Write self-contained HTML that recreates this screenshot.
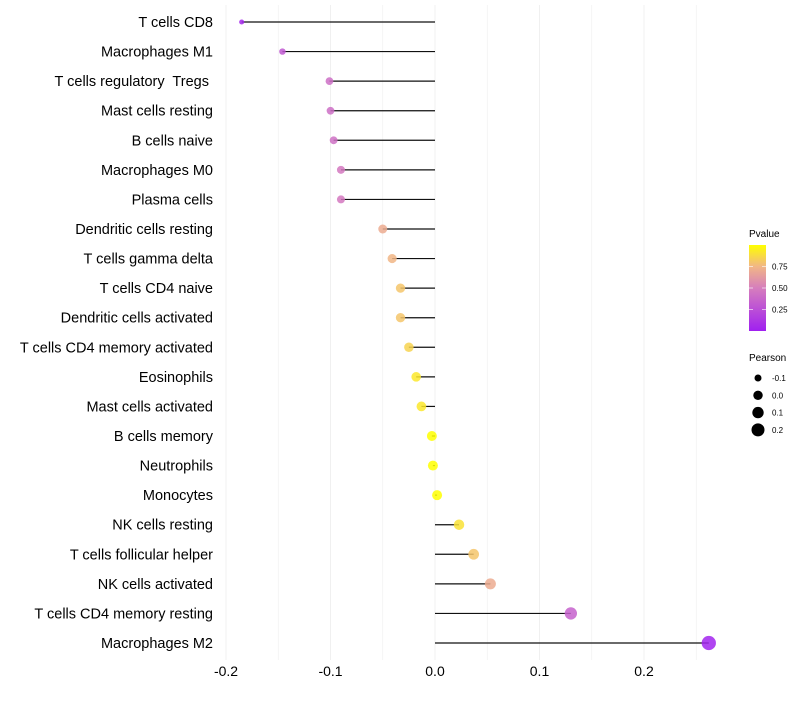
<!DOCTYPE html>
<html><head><meta charset="utf-8"><style>
body{margin:0;background:#fff;font-family:"Liberation Sans",sans-serif}
text{white-space:pre}
</style></head><body>
<svg id="c" width="800" height="700" xmlns="http://www.w3.org/2000/svg">
<defs><linearGradient id="pg" x1="0" y1="1" x2="0" y2="0">
<stop offset="0" stop-color="#a020f0"/><stop offset="0.5" stop-color="#d67ebd"/><stop offset="0.75" stop-color="#f1b686"/><stop offset="1" stop-color="#ffff00"/></linearGradient></defs>
</svg>
<script>
const categories=["T cells CD8","Macrophages M1","T cells regulatory  Tregs ","Mast cells resting","B cells naive","Macrophages M0","Plasma cells","Dendritic cells resting","T cells gamma delta","T cells CD4 naive","Dendritic cells activated","T cells CD4 memory activated","Eosinophils","Mast cells activated","B cells memory","Neutrophils","Monocytes","NK cells resting","T cells follicular helper","NK cells activated","T cells CD4 memory resting","Macrophages M2"];
const pearson=[-0.185,-0.146,-0.101,-0.100,-0.097,-0.090,-0.090,-0.050,-0.041,-0.033,-0.033,-0.025,-0.018,-0.013,-0.003,-0.002,0.002,0.023,0.037,0.053,0.130,0.262];
const pvalues=[0.05,0.3,0.42,0.42,0.43,0.47,0.47,0.7,0.75,0.8,0.8,0.85,0.92,0.92,1,1,1,0.9,0.8,0.7,0.35,0.02];
const xTicks=[-0.2,-0.1,0,0.1,0.2];
const xTickLabels=["-0.2","-0.1","0.0","0.1","0.2"];
const sizeLegend=[-0.1,0,0.1,0.2];
const sizeLegendLabels=["-0.1","0.0","0.1","0.2"];
const colorTicks=[0.25,0.5,0.75];
const colorTickLabels=["0.25","0.50","0.75"];

const svg=document.getElementById('c');const NS="http://www.w3.org/2000/svg";
function mk(t,a,p){const e=document.createElementNS(NS,t);for(const k in a)e.setAttribute(k,a[k]);(p||svg).appendChild(e);return e;}
const x=v=>435+v*1045;
const y=i=>22+i*(621/(categories.length-1));
const rad=p=>Math.sqrt(Math.max(2.2,25+100*p));
const lrad=p=>Math.sqrt(22.25+100*p);
const stops=[[0,[160,32,240]],[0.5,[214,126,189]],[0.75,[241,182,134]],[1,[255,255,0]]];
function col(v){for(let i=1;i<stops.length;i++){if(v<=stops[i][0]){const[a,ca]=stops[i-1],[b,cb]=stops[i];const t=(v-a)/(b-a);return 'rgb('+ca.map((c,j)=>Math.round(c+(cb[j]-c)*t)).join(',')+')';}}return 'rgb(255,255,0)';}
for(let k=-4;k<=5;k++){const v=k*0.05;const g=mk('line',{x1:x(v),x2:x(v),y1:5,y2:660,stroke:'#f0f0f0','stroke-width':k%2==0?1:0.7});

}
xTicks.forEach((v,i)=>{const t=mk('text',{x:x(v),y:676,'text-anchor':'middle','font-size':14,fill:'#000'});t.textContent=xTickLabels[i];

});
categories.forEach((c,i)=>{
const t=mk('text',{x:213,y:y(i)+5,'text-anchor':'end','font-size':14.5,fill:'#000'});t.textContent=c;


const l=mk('line',{x1:x(0),x2:x(pearson[i]),y1:y(i),y2:y(i),stroke:'#111','stroke-width':1.2});


const d=mk('circle',{cx:x(pearson[i]),cy:y(i),r:rad(pearson[i]),fill:col(pvalues[i]),'fill-opacity':0.85});


});
let t=mk('text',{x:749,y:237,'font-size':10});t.textContent='Pvalue';


const bar=mk('rect',{x:749,y:245,width:17,height:86,fill:'url(#pg)'});


const cy=v=>331-v*86;
colorTicks.forEach((v,i)=>{mk('line',{x1:749,x2:753,y1:cy(v),y2:cy(v),stroke:'#fff','stroke-opacity':0.6});mk('line',{x1:762,x2:766,y1:cy(v),y2:cy(v),stroke:'#fff','stroke-opacity':0.6});
const l=mk('text',{x:772,y:cy(v)+3,'font-size':8});l.textContent=colorTickLabels[i];

});
t=mk('text',{x:749,y:361,'font-size':10});t.textContent='Pearson';


sizeLegend.forEach((v,i)=>{const yy=378+i*17.3;const c=mk('circle',{cx:758,cy:yy,r:lrad(v),fill:'#000'});


const l=mk('text',{x:772,y:yy+3,'font-size':8});l.textContent=sizeLegendLabels[i];

});
</script>
</body></html>
